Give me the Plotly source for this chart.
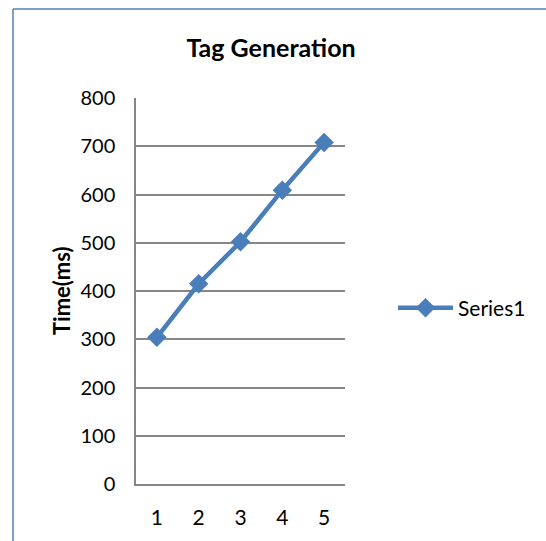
import plotly.graph_objects as go

categories = [1, 2, 3, 4, 5]
series1 = [304, 415, 502, 609, 708]
series_name = "Series1"
title_text = "Tag Generation"
y_title = "Time(ms)"

W, H = 546, 541
L, R, T, B = 136, 201, 98, 57
pw = W - L - R
ph = H - T - B

fig = go.Figure()
fig.add_trace(go.Scatter(
    x=categories, y=series1, name=series_name, mode="lines+markers",
    line=dict(color="#4A7EBB", width=4.5),
    marker=dict(symbol="diamond", size=15, color="#4A7EBB"),
))

FONT = "Lato, Carlito, Calibri, sans-serif"

def px_x(p):
    return (p - L) / pw

def px_y(p):
    return 1 - (p - T) / ph

fig.update_layout(
    width=W, height=H,
    margin=dict(l=L, r=R, t=T, b=B, autoexpand=False),
    paper_bgcolor="white", plot_bgcolor="white",
    font=dict(family=FONT, size=20, color="black"),
    title=dict(text="<b>" + title_text + "</b>", x=px_x(271), xref="paper",
               xanchor="center", y=1 - 48 / H, yanchor="middle",
               font=dict(size=25, family=FONT)),
    showlegend=True,
    legend=dict(x=px_x(393), y=px_y(308), xanchor="left", yanchor="middle",
                itemwidth=55,
                font=dict(size=21, family=FONT), bgcolor="rgba(0,0,0,0)"),
    xaxis=dict(range=[0.5, 5.5], tickvals=categories, showgrid=False,
               showline=True, linecolor="#878787", linewidth=1.5,
               ticks="", zeroline=False, ticklabelstandoff=14,
               tickfont=dict(size=21), fixedrange=True),
    yaxis=dict(range=[0, 800], dtick=100, showgrid=True, gridcolor="#878787",
               gridwidth=1.5, showline=True, linecolor="#878787", linewidth=1.5,
               ticks="", zeroline=False, ticklabelstandoff=15,
               tickfont=dict(size=20), fixedrange=True),
    annotations=[
        dict(text="<b>" + y_title + "</b>", xref="paper", yref="paper",
             x=px_x(61), y=px_y(291), xanchor="center", yanchor="middle",
             textangle=-90, showarrow=False, font=dict(size=22, family=FONT)),
    ],
    shapes=[
        dict(type="line", xref="paper", yref="paper",
             x0=px_x(13), x1=px_x(13), y0=px_y(9), y1=px_y(545),
             line=dict(color="#4F81BD", width=1.5)),
        dict(type="line", xref="paper", yref="paper",
             x0=px_x(13), x1=px_x(549), y0=px_y(9), y1=px_y(9),
             line=dict(color="#4F81BD", width=1.5)),
    ],
)

fig.write_html(
    "out.html",
    config={"displayModeBar": False},
    post_script="document.body.style.margin='0';document.body.style.overflow='hidden';",
)
